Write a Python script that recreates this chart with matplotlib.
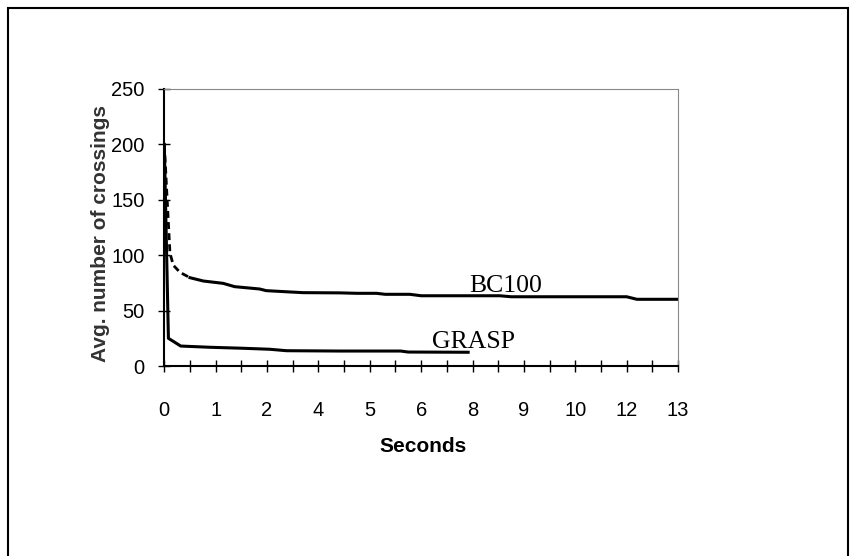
import matplotlib
matplotlib.use("Agg")
import matplotlib.pyplot as plt
from matplotlib.patches import Rectangle

# category-axis positions (Excel style: 20 intervals, every second tick labelled)
tick_labels = ['0', '1', '2', '4', '5', '6', '8', '9', '10', '12', '13']

bc_x = [0, 0.22, 0.35, 0.61, 1.0, 1.52, 2.29, 2.74, 3.71, 3.97, 4.75, 5.40,
        6.84, 7.5, 8.26, 8.6, 9.56, 10.0, 13.06, 13.5, 18.0, 18.4, 20]
bc_y = [200, 102, 91, 84.5, 79.7, 76.7, 74.6, 71.6, 69.5, 68, 67, 66.2,
        66.0, 65.6, 65.6, 64.7, 64.7, 63.4, 63.4, 62.5, 62.5, 60.2, 60.2]

grasp_x = [0, 0.16, 0.64, 1.78, 3.07, 4.11, 4.76, 6.84, 9.2, 9.5, 11.83]
grasp_y = [200, 25, 18, 16.9, 16, 15.1, 13.8, 13.5, 13.5, 12.6, 12.4]

n_dash = 5  # first points of BC100 look dashed

fig = plt.figure(figsize=(8.55, 5.56), dpi=100)
fig.patches.append(Rectangle((8 / 855, -0.05), 840 / 855, 1.05 - 8 / 556,
                             transform=fig.transFigure, fill=False,
                             edgecolor='black', linewidth=1.5))
ax = fig.add_axes([164.3 / 855, 1 - 366 / 556, 513.7 / 855, 277 / 556])

ax.plot(bc_x[:n_dash], bc_y[:n_dash], color='black', lw=2.0, ls=(0, (2.5, 1.5)))
ax.plot(bc_x[n_dash - 1:], bc_y[n_dash - 1:], color='black', lw=2.2)
ax.plot(grasp_x, grasp_y, color='black', lw=2.2)

ax.text(11.86, 66.8, 'BC100', family='Liberation Serif', fontsize=18.5,
        va='baseline', ha='left')
ax.text(10.41, 16.2, 'GRASP', family='Liberation Serif', fontsize=18.5,
        va='baseline', ha='left')

ax.set_xlim(0, 20)
ax.set_ylim(0, 250)
ax.set_xticks(range(0, 21, 2))
ax.set_xticklabels(tick_labels)
ax.set_xticks(range(1, 21, 2), minor=True)
ax.set_yticks(range(0, 251, 50))

for lab in ax.get_xticklabels() + ax.get_yticklabels():
    lab.set_family('Liberation Sans')
    lab.set_fontsize(14.5)

ax.tick_params(axis='x', which='both', direction='inout', length=8, width=1,
               pad=21)
ax.tick_params(axis='y', direction='inout', length=8, width=1, pad=10)

ax.spines['left'].set_linewidth(1.5)
ax.spines['bottom'].set_linewidth(1.5)
ax.spines['top'].set_color('#888888')
ax.spines['right'].set_color('#888888')

ax.set_xlabel('Seconds', family='Liberation Sans', fontweight='bold', fontsize=15)
ax.set_ylabel('Avg. number of crossings', family='Liberation Sans',
              fontweight='bold', fontsize=15, color='#333333')
ax.xaxis.set_label_coords(0.504, -0.256)
ax.yaxis.set_label_coords(-0.106, 0.48)

plt.savefig('out.png', dpi=100)
